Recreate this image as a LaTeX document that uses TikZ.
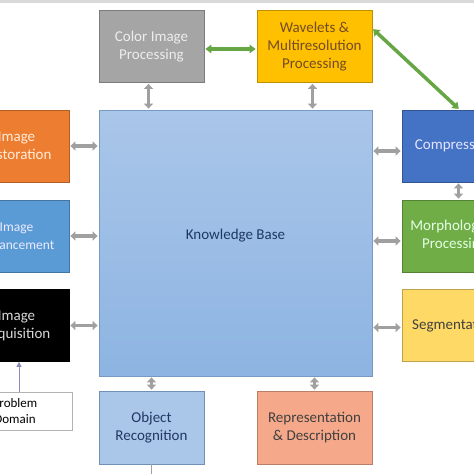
\documentclass[tikz,border=0pt]{standalone}
\usepackage{fontspec}
\setmainfont{Carlito}
\usetikzlibrary{arrows.meta}
\definecolor{cipgray}{HTML}{A5A5A5}
\definecolor{wavgold}{HTML}{FFC000}
\definecolor{restorange}{HTML}{ED7D31}
\definecolor{enhblue}{HTML}{5B9BD5}
\definecolor{compblue}{HTML}{4472C4}
\definecolor{morphgreen}{HTML}{70AD47}
\definecolor{segyellow}{HTML}{FFD966}
\definecolor{repsalmon}{HTML}{F6A98A}
\definecolor{kbtop}{HTML}{AAC6E9}
\definecolor{kbbot}{HTML}{8DB4E2}
\definecolor{navytext}{HTML}{1F3864}
\definecolor{arrowgray}{HTML}{A0A0A0}
\definecolor{linkgreen}{HTML}{66A645}
\begin{document}
\begin{tikzpicture}
    [x=1pt,y=-1pt,inner sep=0pt,
     font=\fontsize{15}{18}\selectfont,
     box/.style={rectangle,draw=#1!75!black,fill=#1,line width=0.8pt,
       minimum width=105pt,minimum height=72pt,align=center},
     biarrow/.style={draw=arrowgray,line width=3.8pt,shorten <=1pt,shorten >=1pt,
       {Triangle[length=5pt,width=9pt]}-{Triangle[length=5pt,width=9pt]}},
     greenlink/.style={draw=linkgreen,line width=3.5pt,shorten <=1pt,shorten >=1pt,
       {Triangle[length=6pt,width=8.5pt]}-{Triangle[length=6pt,width=8.5pt]}}]
    \clip (0,0) rectangle (474,474);
    \fill [gray!30] (0,0) rectangle (474,3);
    % top row
    \node (cip) at (151.5,46.5) [box=cipgray,text=white!93!black] {Color Image\\Processing};
    \node (wavelets) at (314.5,46.5) [box=wavgold,minimum width=115pt,text=brown!60!black] {Wavelets \&\\Multiresolution\\Processing};
    % centre
    \node (kb) at (235.5,243) [rectangle,draw=kbbot!85!black,line width=0.8pt,
      top color=kbtop,bottom color=kbbot,minimum width=273pt,minimum height=266pt,
      label={[yshift=7pt,text=navytext]center:Knowledge Base}] {};
    % left column
    \node (restoration) at (16.5,146) [box=restorange,text=orange!15] {Image\\Restoration};
    \node (enhancement) at (16.5,236) [box=enhblue,text=white!92!blue,
      font=\fontsize{13.5}{18}\selectfont] {Image\\Enhancement};
    \node (acquisition) at (16.5,325.5) [box=black,text=white!85!black] {Image\\Acquisition};
    \node (problem) at (15,411) [rectangle,draw=gray!60,fill=white,line width=0.8pt,
      minimum width=114pt,minimum height=38pt,align=center,
      font=\fontsize{13}{15.5}\selectfont] {Problem\\Domain};
    % right column
    \node (compression) at (454.5,146) [box=compblue,text=blue!10] {Compression};
    \node (morph) at (454.5,236) [box=morphgreen,text=green!10] {Morphological\\Processing};
    \node (seg) at (454.5,325.5) [box=segyellow,text=black!75] {Segmentation};
    % bottom row
    \node (objrec) at (151.5,427.5) [box=kbtop,draw=kbbot!80!black,text=navytext,
      minimum height=73pt] {Object\\Recognition};
    \node (repdesc) at (314.5,427.5) [box=repsalmon,minimum width=115pt,
      minimum height=73pt,text=black!75] {Representation\\\& Description};
    \coordinate (exit) at (151.5,480);
    % links to the knowledge base
    \draw [biarrow] ([xshift=-3pt]cip.south) to ([xshift=-3pt]cip.south |- kb.north);
    \draw [biarrow] ([xshift=-2pt]wavelets.south) to ([xshift=-2pt]wavelets.south |- kb.north);
    \draw [biarrow] (restoration.east) to (restoration.east -| kb.west);
    \draw [biarrow] (enhancement.east) to (enhancement.east -| kb.west);
    \draw [biarrow] (acquisition.east) to (acquisition.east -| kb.west);
    \draw [biarrow] ([yshift=-5pt]compression.west -| kb.east) to ([yshift=-5pt]compression.west);
    \draw [biarrow] ([yshift=-5pt]morph.west -| kb.east) to ([yshift=-5pt]morph.west);
    \draw [biarrow] ([yshift=-2pt]seg.west -| kb.east) to ([yshift=-2pt]seg.west);
    \draw [biarrow] ([xshift=4pt]compression.south) to ([xshift=4pt]compression.south |- morph.north);
    \draw [biarrow] (objrec.north |- kb.south) to (objrec.north);
    \draw [biarrow] (repdesc.north |- kb.south) to (repdesc.north);
    % green links
    \draw [greenlink] ([yshift=-2.5pt]cip.east) to ([yshift=-2.5pt]wavelets.west);
    \draw [greenlink] ([yshift=18pt]wavelets.east) to ([xshift=5pt]compression.north);
    % problem domain and exit line
    \draw [draw=blue!30!gray!70,line width=1pt,-{Triangle[length=5pt,width=5pt]}]
      ([xshift=4pt]problem.north) to ([xshift=4pt]problem.north |- acquisition.south);
    \draw [draw=arrowgray,line width=1pt] (objrec.south) to (exit);
\end{tikzpicture}
\end{document}
